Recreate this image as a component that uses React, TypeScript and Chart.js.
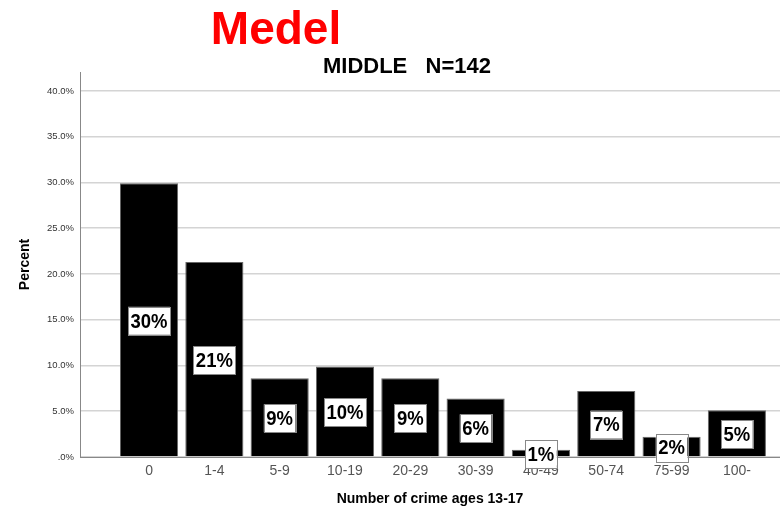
import React, { useEffect, useRef } from "react";
import { Chart, registerables } from "chart.js";

Chart.register(...registerables);

const categories = ["0", "1-4", "5-9", "10-19", "20-29", "30-39", "40-49", "50-74", "75-99", "100-"];
const percents = [29.9, 21.3, 8.6, 9.9, 8.6, 6.4, 0.8, 7.2, 2.2, 5.1];
const valueLabels = ["30%", "21%", "9%", "10%", "9%", "6%", "1%", "7%", "2%", "5%"];
const yTicks = [0, 5, 10, 15, 20, 25, 30, 35, 40];

const mainTitle = "Medel";
const subTitle = "MIDDLE   N=142";
const xTitle = "Number of crime ages 13-17";
const yTitle = "Percent";

const FONT = "'Liberation Sans', Arial, sans-serif";
const LABEL_SQUEEZE = 0.88;

const textPlugin = {
  id: "textPlugin",
  afterDraw(chart: any) {
    const ctx = chart.ctx;
    ctx.save();
    ctx.textAlign = "center";
    ctx.textBaseline = "alphabetic";
    ctx.fillStyle = "#ff0000";
    ctx.font = `bold 46px ${FONT}`;
    ctx.fillText(mainTitle, 276, 44);
    ctx.fillStyle = "#000";
    ctx.font = `bold 22px ${FONT}`;
    ctx.fillText(subTitle, 407, 73);
    ctx.restore();
  },
  afterDatasetsDraw(chart: any) {
    const ctx = chart.ctx;
    const meta = chart.getDatasetMeta(0);
    ctx.save();
    ctx.font = `bold 21px ${FONT}`;
    ctx.textAlign = "center";
    ctx.textBaseline = "middle";
    meta.data.forEach((bar: any, i: number) => {
      const txt = valueLabels[i];
      const cx = bar.x;
      const cy = (bar.y + bar.base) / 2 + 1;
      const w = ctx.measureText(txt).width * LABEL_SQUEEZE + 5;
      const h = 28;
      ctx.fillStyle = "#fff";
      ctx.fillRect(cx - w / 2, cy - h / 2, w, h);
      ctx.strokeStyle = "#888";
      ctx.lineWidth = 1;
      ctx.strokeRect(Math.round(cx - w / 2) + 0.5, Math.round(cy - h / 2) + 0.5, Math.round(w), h);
      ctx.fillStyle = "#000";
      ctx.save();
      ctx.translate(cx, cy + 1);
      ctx.scale(LABEL_SQUEEZE, 1);
      ctx.fillText(txt, 0, 0);
      ctx.restore();
    });
    ctx.restore();
  },
};

export default function App() {
  const ref = useRef<HTMLCanvasElement>(null);
  useEffect(() => {
    if (!ref.current) return;
    const chart = new Chart(ref.current, {
      type: "bar",
      data: {
        datasets: [
          {
            data: percents.map((v, i) => ({ x: i, y: v })),
            backgroundColor: "#000",
            borderColor: "#666",
            borderWidth: 1,
            categoryPercentage: 1,
            barPercentage: 0.89,
          },
        ],
      },
      options: {
        animation: false,
        responsive: false,
        devicePixelRatio: 1,
        layout: { padding: { top: 72, left: 0, right: 0, bottom: 0 } },
        plugins: { legend: { display: false }, tooltip: { enabled: false } },
        scales: {
          x: {
            type: "linear",
            min: -1.057,
            max: 9.66,
            offset: false,
            afterFit(s: any) {
              s.height = 56;
            },
            afterBuildTicks(s: any) {
              s.ticks = categories.map((_, i) => ({ value: i }));
            },
            grid: { display: false, drawTicks: false },
            border: { display: true, color: "#888", width: 1 },
            ticks: {
              autoSkip: false,
              maxRotation: 0,
              padding: 6,
              color: "#555",
              font: { family: FONT, size: 14 },
              callback: (v: any) => categories[v] ?? "",
            },
            title: {
              display: true,
              text: xTitle,
              color: "#000",
              font: { family: FONT, size: 14, weight: "bold" },
              padding: { top: 0, bottom: 5 },
            },
          },
          y: {
            min: 0,
            max: 42.07,
            afterFit(s: any) {
              s.width = 80;
            },
            afterBuildTicks(s: any) {
              s.ticks = yTicks.map((v) => ({ value: v }));
            },
            grid: { color: "#d4d4d4", lineWidth: 1.5, drawTicks: false },
            border: { display: true, color: "#888", width: 1 },
            ticks: {
              padding: 6,
              color: "#333",
              font: { family: FONT, size: 9.5 },
              callback: (v: any) => (v === 0 ? ".0%" : Number(v).toFixed(1) + "%"),
            },
            title: {
              display: true,
              text: yTitle,
              color: "#000",
              font: { family: FONT, size: 14, weight: "bold" },
              padding: { top: 17, bottom: 0 },
            },
          },
        },
      },
      plugins: [textPlugin],
    } as any);
    return () => chart.destroy();
  }, []);
  return (
    <div style={{ position: "fixed", left: 0, top: 0, width: 780, height: 513, background: "#fff" }}>
      <canvas ref={ref} width={780} height={513} style={{ display: "block" }} />
    </div>
  );
}
